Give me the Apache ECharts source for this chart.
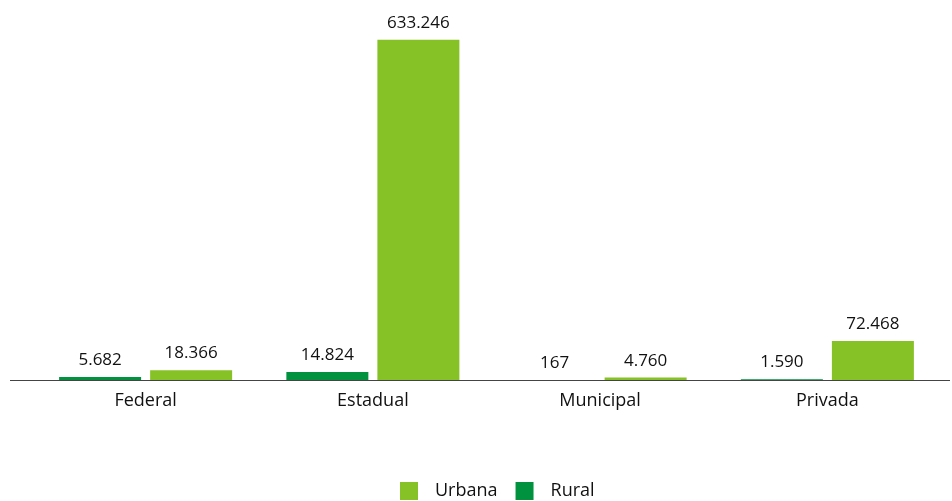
<!DOCTYPE html>
<html>
<head>
<meta charset="utf-8">
<script src="https://cdn.jsdelivr.net/npm/echarts@6/dist/echarts.min.js"></script>
<style>html,body{margin:0;padding:0;background:#fff;}#c{width:952px;height:501px;}</style>
</head>
<body>
<div id="c"></div>
<script>
const categories = ['Federal', 'Estadual', 'Municipal', 'Privada'];
const rural = [5682, 14824, 167, 1590];
const urbana = [18366, 633246, 4760, 72468];
const legendOrder = ['Urbana', 'Rural'];

function fmt(v) { return String(v).replace(/\B(?=(\d{3})+(?!\d))/g, '.'); }
const font = '"Open Sans", "Noto Sans", sans-serif';
const chart = echarts.init(document.getElementById('c'));
const labelCfg = { show: true, position: 'top', distance: 8, color: '#111', fontSize: 17, fontFamily: font,
  formatter: p => fmt(p.value) };
chart.setOption({
  animation: false,
  grid: { left: 32, right: 11, top: 4, bottom: 121 },
  legend: {
    data: legendOrder, top: 477, left: 395, itemWidth: 18, itemHeight: 18, itemGap: 18,
    icon: 'rect', textStyle: { fontSize: 18, fontFamily: font, color: '#111', padding: [0, 0, 0, 12] }
  },
  xAxis: {
    type: 'category', data: categories,
    axisLine: { lineStyle: { color: '#444', width: 1 } },
    axisTick: { show: false },
    axisLabel: { fontSize: 18, fontFamily: font, color: '#111', margin: 12 }
  },
  yAxis: { type: 'value', min: 0, max: 700000, show: false, splitLine: { show: false } },
  graphic: [{ type: 'line', shape: { x1: 10, y1: 380.5, x2: 950, y2: 380.5 }, style: { stroke: '#444', lineWidth: 1 }, z: 10 }],
  series: [
    { name: 'Rural', type: 'bar', data: rural, barWidth: 82, barGap: '11%', itemStyle: { color: '#00923F' }, label: labelCfg },
    { name: 'Urbana', type: 'bar', data: urbana, barWidth: 82, itemStyle: { color: '#86C226' }, label: labelCfg }
  ]
});
</script>
</body>
</html>
